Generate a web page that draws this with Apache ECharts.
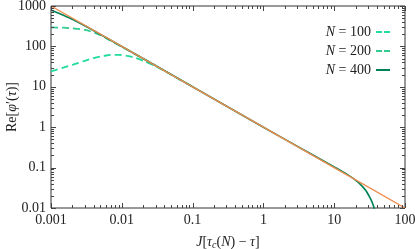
<!DOCTYPE html>
<html><head><meta charset="utf-8">
<script src="https://cdn.jsdelivr.net/npm/echarts@6/dist/echarts.min.js"></script>
<style>html,body{margin:0;padding:0;background:#fff}#c{width:415px;height:249px}</style>
</head><body><div id="c"></div>
<script>
// ---- data ----
const xTicks = [0.001, 0.01, 0.1, 1, 10, 100];
const yTicks = [0.01, 0.1, 1, 10, 100, 1000];
const seriesNames = ['N = 100', 'N = 200', 'N = 400', 'power law'];
const n100 = [[0.001,24],[0.0015,30],[0.002,35],[0.003,44],[0.004,51],[0.005,56],[0.006,59.5],[0.007,61.5],[0.009,62],[0.012,58],[0.015,53],[0.02,44],[0.03,32.5],[0.04,24.8],[0.05,19.9],[0.07,14.2],[0.1,10]];
const n200 = [[0.001,295],[0.0015,290],[0.002,280],[0.003,255],[0.004,222],[0.005,190],[0.006,160],[0.008,121],[0.01,98],[0.015,66],[0.02,50],[0.03,33.3]];
const n400 = [[0.001,800],[0.0015,590],[0.002,470],[0.003,325],[0.005,198],[0.01,100],[0.1,10],[1,1],[5,0.205],[10,0.104],[15,0.069],[20,0.049],[24,0.037],[28,0.027],[31,0.02],[34,0.0145],[36,0.011],[37.5,0.0085],[38.5,0.006]];
const powerLaw = [[0.001,1000],[0.01,100],[0.1,10],[1,1],[10,0.1],[100,0.01]];

function tickList(ticks){const out=[];for(let i=0;i<ticks.length;i++){out.push([ticks[i],1]);if(i<ticks.length-1)for(let k=2;k<=9;k++)out.push([+(ticks[i]*k).toPrecision(6),0]);}return out;}
const xTickData = tickList(xTicks).map(d=>[d[0],1,d[1]]);
const yTickData = tickList(yTicks).map(d=>[1,d[0],d[1]]);

const serif = '"Liberation Serif", "DejaVu Serif", serif';
const fmt = v => String(Number(Number(v).toPrecision(6)));
const tickColor = '#444';
const txt = '#222';

const chart = echarts.init(document.getElementById('c'), null, {renderer:'canvas'});

function xTickRender(params, api){
  const cs = params.coordSys;
  const p = api.coord([api.value(0), 1]);
  const x = Math.round(p[0]) + 0.5;
  const len = api.value(2) ? 5 : 3;
  const b = cs.y + cs.height, t = cs.y;
  return {type:'group', children:[
    {type:'line', shape:{x1:x,y1:b,x2:x,y2:b-len}, style:{stroke:tickColor, lineWidth:1}},
    {type:'line', shape:{x1:x,y1:t,x2:x,y2:t+len}, style:{stroke:tickColor, lineWidth:1}}
  ]};
}
function yTickRender(params, api){
  const cs = params.coordSys;
  const p = api.coord([1, api.value(1)]);
  const y = Math.round(p[1]) + 0.5;
  const len = api.value(2) ? 5 : 3;
  const l = cs.x, r = cs.x + cs.width;
  return {type:'group', children:[
    {type:'line', shape:{x1:l,y1:y,x2:l+len,y2:y}, style:{stroke:tickColor, lineWidth:1}},
    {type:'line', shape:{x1:r,y1:y,x2:r-len,y2:y}, style:{stroke:tickColor, lineWidth:1}}
  ]};
}

const dashIcon = 'path://M0,0H6V2H0Z M8,0H14V2H8Z';
const solidIcon = 'path://M0,0H14V2H0Z';

chart.setOption({
  animation:false,
  grid:{left:51, right:10, top:6, bottom:41, show:true, borderColor:'#333', borderWidth:1, containLabel:false, outerBoundsMode:'none'},
  xAxis:{type:'log', logBase:10, min:xTicks[0], max:xTicks[xTicks.length-1],
    splitLine:{show:false}, axisLine:{show:false}, axisTick:{show:false},
    axisLabel:{formatter:fmt, fontFamily:serif, fontSize:14, color:txt, margin:5},
    name:'{i|J}[{i|τ}{s|c}({i|N}) − {i|τ}]', nameLocation:'middle', nameGap:26,
    nameTextStyle:{fontFamily:serif, fontSize:14, color:txt, rich:{i:{fontStyle:'italic',fontFamily:serif,fontSize:14,color:txt}, s:{fontStyle:'italic',fontFamily:serif,fontSize:10,color:txt,verticalAlign:'bottom',padding:[6,0,0,0]}}}},
  yAxis:{type:'log', logBase:10, min:yTicks[0], max:yTicks[yTicks.length-1],
    splitLine:{show:false}, axisLine:{show:false}, axisTick:{show:false},
    axisLabel:{formatter:fmt, fontFamily:serif, fontSize:14, color:txt, margin:5},
    name:'Re[{i|φ}′({i|τ})]', nameLocation:'middle', nameGap:32, nameMoveOverlap:false,
    nameTextStyle:{fontFamily:serif, fontSize:14, color:txt, rich:{i:{fontStyle:'italic',fontFamily:serif,fontSize:14,color:txt}}}},
  legend:{data:[{name:seriesNames[0], icon:dashIcon},{name:seriesNames[1], icon:dashIcon},{name:seriesNames[2], icon:solidIcon}],
    orient:'vertical', right:20, top:20, align:'right',
    itemWidth:14, itemHeight:2, itemGap:5,
    itemStyle:{borderWidth:0}, lineStyle:{width:0},
    formatter: n => '{i|N} = ' + n.split('= ')[1],
    textStyle:{fontFamily:serif, fontSize:14, color:txt, rich:{i:{fontStyle:'italic', fontFamily:serif, fontSize:14, color:txt}}}},
  series:[
    {name:'xticks', type:'custom', data:xTickData, renderItem:xTickRender, encode:{x:0,y:1}, silent:true, z:5},
    {name:'yticks', type:'custom', data:yTickData, renderItem:yTickRender, encode:{x:0,y:1}, silent:true, z:5},
    {name:seriesNames[0], type:'line', data:n100, showSymbol:false, symbol:'none', smooth:0.3, clip:true,
     lineStyle:{color:'#22dc9c', width:1.8, type:[7,4]}, itemStyle:{color:'#22dc9c'}, z:2},
    {name:seriesNames[1], type:'line', data:n200, showSymbol:false, symbol:'none', smooth:0.3, clip:true,
     lineStyle:{color:'#2fcb8f', width:1.8, type:[7,4]}, itemStyle:{color:'#2fcb8f'}, z:2},
    {name:seriesNames[2], type:'line', data:n400, showSymbol:false, symbol:'none', smooth:0.3, clip:true,
     lineStyle:{color:'#008357', width:1.7}, itemStyle:{color:'#008357'}, z:3},
    {name:seriesNames[3], type:'line', data:powerLaw, showSymbol:false, symbol:'none', clip:true,
     lineStyle:{color:'#ee8a4c', width:1.4}, itemStyle:{color:'#ee8a4c'}, z:4}
  ]
});
</script></body></html>
